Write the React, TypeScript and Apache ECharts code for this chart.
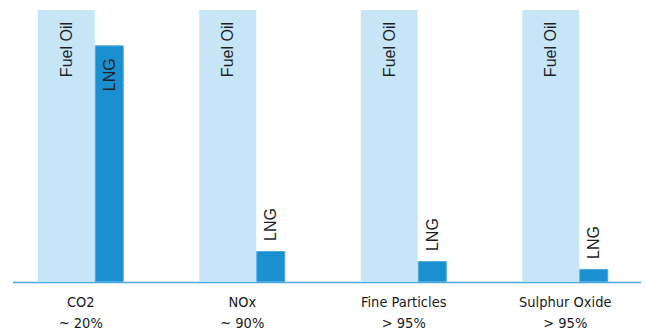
import React, { useEffect, useRef } from "react";
import * as echarts from "echarts";

const categories = ["CO2\n~ 20%", "NOx\n~ 90%", "Fine Particles\n> 95%", "Sulphur Oxide\n> 95%"];
const fuelOilValues = [100, 100, 100, 100];
const lngValues = [87, 11.4, 7.7, 4.8];
const seriesNames = ["Fuel Oil", "LNG"];

export default function App() {
  const ref = useRef<HTMLDivElement>(null);
  useEffect(() => {
    if (!ref.current) return;
    const chart = echarts.init(ref.current, undefined, { renderer: "svg" });
    const labelFont = {
      fontFamily: "'Liberation Sans', Arial, sans-serif",
      fontSize: 16,
      color: "#1e1e1e",
    };
    chart.setOption({
      animation: false,
      backgroundColor: "#ffffff",
      grid: { left: -2, right: -10, top: 10, bottom: 50, containLabel: false },
      xAxis: {
        type: "category",
        data: categories,
        axisLine: { show: false },
        axisTick: { show: false },
        axisLabel: {
          margin: 9,
          fontFamily: "'Liberation Sans Narrow', 'DejaVu Sans Condensed', sans-serif",
          fontSize: 14.5,
          lineHeight: 21,
          color: "#1a1a1a",
          interval: 0,
        },
      },
      yAxis: {
        type: "value",
        min: 0,
        max: 100,
        show: false,
        splitLine: { show: false },
      },
      series: [
        {
          name: seriesNames[0],
          type: "bar",
          data: fuelOilValues,
          barWidth: 57,
          barGap: "0%",
          itemStyle: { color: "#C6E6F8" },
          label: {
            show: true,
            formatter: seriesNames[0],
            position: "insideTop",
            rotate: 90,
            align: "right",
            verticalAlign: "middle",
            distance: 12,
            ...labelFont,
          },
          z: 2,
        },
        {
          name: seriesNames[1],
          type: "bar",
          barWidth: 29,
          barGap: "0%",
          itemStyle: { color: "#1B90D0", borderColor: "#4DA9E2", borderWidth: 1 },
          data: lngValues.map((v, i) => ({
            value: v,
            label:
              i === 0
                ? {
                    show: true,
                    formatter: seriesNames[1],
                    position: "insideTop",
                    rotate: 90,
                    align: "right",
                    verticalAlign: "middle",
                    distance: 13,
                    ...labelFont,
                  }
                : {
                    show: true,
                    formatter: seriesNames[1],
                    position: "top",
                    rotate: 90,
                    align: "left",
                    verticalAlign: "middle",
                    distance: 10,
                    ...labelFont,
                  },
          })),
          z: 3,
        },
      ],
      graphic: [
        {
          type: "line",
          shape: { x1: 13, y1: 282.5, x2: 641, y2: 282.5 },
          style: { stroke: "#4AA8E2", lineWidth: 1.5 },
          z: 1,
        },
      ],
    });
    return () => chart.dispose();
  }, []);
  return <div ref={ref} style={{ width: 646, height: 333, position: "absolute", left: 0, top: 0 }} />;
}
